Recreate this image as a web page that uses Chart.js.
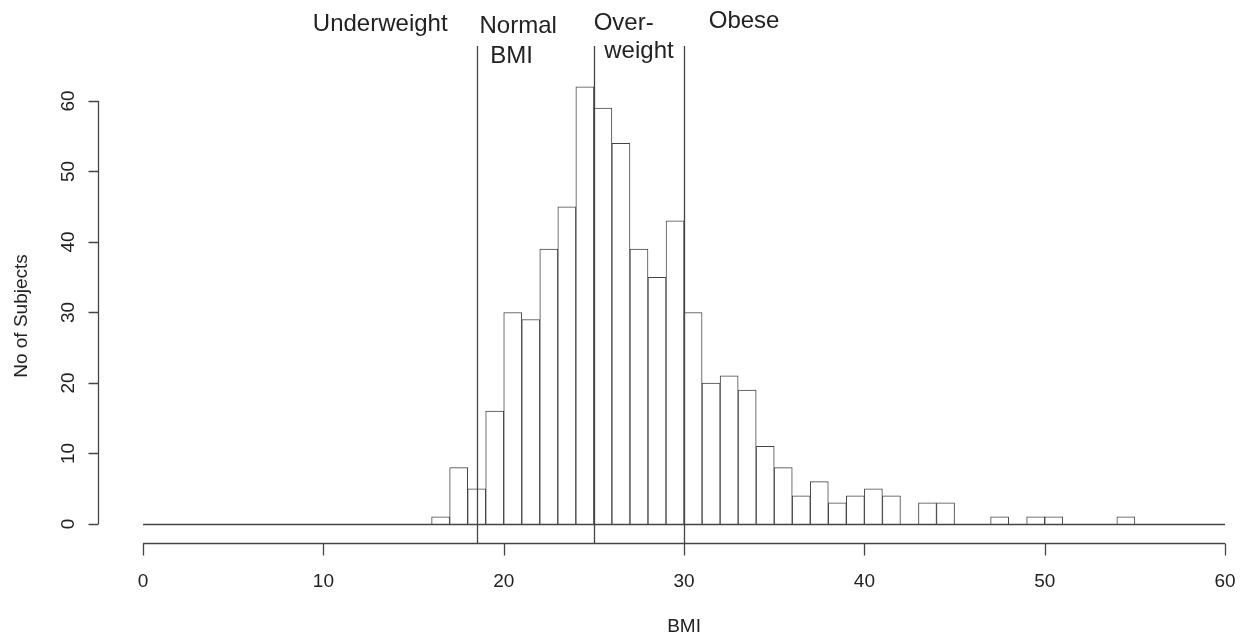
<!DOCTYPE html>
<html>
<head>
<meta charset="utf-8">
<title>BMI histogram</title>
<script src="https://cdn.jsdelivr.net/npm/chart.js@4/dist/chart.umd.min.js"></script>
<style>
  html, body { margin: 0; padding: 0; background: #fff; }
  #bmiChart { display: block; }
</style>
</head>
<body>
<canvas id="bmiChart" width="1251" height="641"></canvas>
<script>
// BMI histogram with WHO category cut-offs
(function() {
  'use strict';

  // one-unit BMI bins, 0..60 (lower edge of each bin)
  const binStarts = Array.from({ length: 60 }, (_, i) => i)
  const counts = [
    0, 0, 0, 0, 0, 0, 0, 0, 0, 0,
    0, 0, 0, 0, 0, 0, 1, 8, 5, 16,
    30, 29, 39, 45, 62, 59, 54, 39, 35, 43,
    30, 20, 21, 19, 11, 8, 4, 6, 3, 4,
    5, 4, 0, 3, 3, 0, 0, 1, 0, 1,
    1, 0, 0, 0, 1, 0, 0, 0, 0, 0
  ]
  const cutoffs = [18.5, 25, 30]
  const xTicks = [0, 10, 20, 30, 40, 50, 60]
  const yTicks = [0, 10, 20, 30, 40, 50, 60]
  const zoneLine1 = ['Underweight', 'Normal', 'Over-', 'Obese']
  const zoneLine2 = ['', 'BMI', 'weight', '']
  const xTitle = 'BMI'
  const yTitle = 'No of Subjects'

  // where the zone labels sit (BMI units) - layout only
  const zoneX1 = [13.15, 20.8, 26.65, 33.33]
  const zoneX2 = [13.15, 20.43, 27.5, 33.33]
  const zoneBase1 = [31, 33, 30, 28]
  const zoneBase2 = [0, 63, 58, 0]

  const ink = '#444444'
  const textInk = '#222222'
  const axisFont = '19px "Liberation Sans", Arial, sans-serif'
  const zoneFont = '24px "Liberation Sans", Arial, sans-serif'

  const rStyle = {
    id: 'rStyle',
    afterDatasetsDraw(chart) {
      const ctx = chart.ctx
      const xs = chart.scales.x
      const ys = chart.scales.y
      const px = v => xs.getPixelForValue(v)
      const py = v => ys.getPixelForValue(v)
      const axisY = Math.round(py(ys.min)) + 0.5
      const axisX = Math.round(px(xs.min)) + 0.5

      ctx.save()
      ctx.strokeStyle = ink
      ctx.lineWidth = 1.3

      // zero-count baseline across all bins
      const by = Math.round(py(0)) + 0.5
      ctx.beginPath()
      ctx.moveTo(px(0), by)
      ctx.lineTo(px(60), by)
      ctx.stroke()

      // category cut-off lines
      cutoffs.forEach(c => {
        const x = Math.round(px(c)) + 0.5
        ctx.beginPath()
        ctx.moveTo(x, 46)
        ctx.lineTo(x, axisY)
        ctx.stroke()
      })

      // x axis (detached, R style)
      ctx.beginPath()
      ctx.moveTo(px(xTicks[0]), axisY)
      ctx.lineTo(px(xTicks[xTicks.length - 1]), axisY)
      xTicks.forEach(t => {
        const x = Math.round(px(t)) + 0.5
        ctx.moveTo(x, axisY)
        ctx.lineTo(x, axisY + 12)
      })
      ctx.stroke()

      // y axis
      ctx.beginPath()
      ctx.moveTo(axisX, py(yTicks[0]))
      ctx.lineTo(axisX, py(yTicks[yTicks.length - 1]))
      yTicks.forEach(t => {
        const y = Math.round(py(t)) + 0.5
        ctx.moveTo(axisX, y)
        ctx.lineTo(axisX - 10, y)
      })
      ctx.stroke()

      ctx.fillStyle = textInk
      ctx.font = axisFont
      ctx.textAlign = 'center'
      ctx.textBaseline = 'middle'
      xTicks.forEach(t => ctx.fillText(String(t), px(t), axisY + 38))
      ctx.fillText(xTitle, (px(0) + px(60)) / 2, 627)

      yTicks.forEach(t => {
        ctx.save()
        ctx.translate(axisX - 30, py(t))
        ctx.rotate(-Math.PI / 2)
        ctx.fillText(String(t), 0, 0)
        ctx.restore()
      })
      ctx.save()
      ctx.translate(22, py(29.5))
      ctx.rotate(-Math.PI / 2)
      ctx.fillText(yTitle, 0, 0)
      ctx.restore()

      // zone labels above the plot
      ctx.font = zoneFont
      ctx.textBaseline = 'alphabetic'
      zoneLine1.forEach((t, i) => {
        ctx.fillText(t, px(zoneX1[i]), zoneBase1[i])
        if (zoneLine2[i]) ctx.fillText(zoneLine2[i], px(zoneX2[i]), zoneBase2[i])
      })
      ctx.restore()
    }
  }

  // eslint-disable-next-line no-undef
  new Chart(document.getElementById('bmiChart').getContext('2d'), {
    type: 'bar',
    data: {
      datasets: [{
        label: 'No of Subjects',
        data: binStarts.map((b, i) => ({ x: b + 0.5, y: counts[i] })),
        backgroundColor: '#ffffff',
        borderColor: ink,
        borderWidth: 1,
        borderSkipped: 'start',
        barPercentage: 1,
        categoryPercentage: 1
      }]
    },
    options: {
      responsive: false,
      animation: false,
      layout: { padding: { left: 98, right: 0, top: 69, bottom: 98 } },
      plugins: {
        legend: { display: false },
        tooltip: { enabled: false }
      },
      scales: {
        x: {
          type: 'linear',
          offset: false,
          min: -2.5,
          max: 61.44,
          display: false
        },
        y: {
          type: 'linear',
          min: -2.7,
          max: 64.54,
          display: false
        }
      }
    },
    plugins: [rStyle]
  })
})();
</script>
</body>
</html>
